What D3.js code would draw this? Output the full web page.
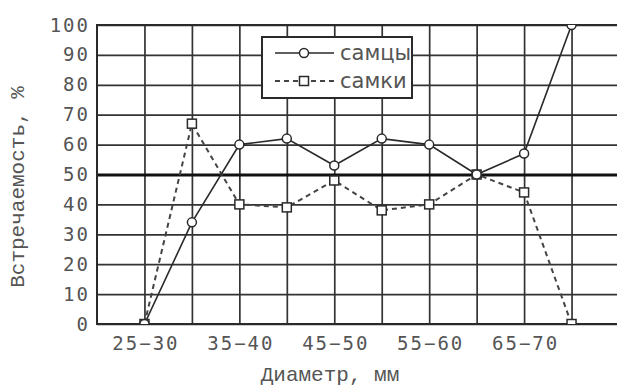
<!DOCTYPE html>
<html>
<head>
<meta charset="utf-8">
<script src="https://cdn.jsdelivr.net/npm/d3@7"></script>
<style>
	body { margin: 0; background: #fff; }
	svg { display: block; }
</style>
</head>
<body>
<div id="chart"></div>
<script>
(() => {
	// data
	const categories = ['25-30', '30-35', '35-40', '40-45', '45-50', '50-55', '55-60', '60-65', '65-70', '70-75'];
	const males = [0, 34, 60, 62, 53, 62, 60, 50, 57, 100];
	const females = [0, 67, 40, 39, 48, 38, 40, 50, 44, 0];
	const yTicks = [0, 10, 20, 30, 40, 50, 60, 70, 80, 90, 100];
	const seriesNames = ['самцы', 'самки'];

	const W = 617;
	const H = 390;
	const left = 97, right = 619, top = 25, bottom = 324;
	const ink = '#2a2a2a';
	const textGray = '#555';

	const svg = d3.select('#chart').append('svg')
		.attr('width', W)
		.attr('height', H);

	const x = d3.scalePoint()
		.domain(categories)
		.range([left, right])
		.padding(1);
	const y = d3.scaleLinear()
		.domain([0, 100])
		.range([bottom, top]);

	svg.append('clipPath')
		.attr('id', 'plot-clip')
		.append('rect')
			.attr('x', left)
			.attr('y', top)
			.attr('width', right - left)
			.attr('height', bottom - top);

	// grid via axes
	const xAxis = d3.axisBottom(x)
		.tickSize(-(bottom - top))
		.tickPadding(8)
		.tickFormat((d, i) => (i % 2 === 0 ? d.replace('-', '\u2212') : ''));
	const yAxis = d3.axisLeft(y)
		.tickValues(yTicks)
		.tickSize(-(right - left))
		.tickPadding(7);

	const xAxisG = svg.append('g')
		.attr('transform', `translate(0, ${bottom})`)
		.call(xAxis);
	const yAxisG = svg.append('g')
		.attr('transform', `translate(${left}, 0)`)
		.call(yAxis);

	[xAxisG, yAxisG].forEach(g => {
		g.select('.domain').remove();
		g.selectAll('line')
			.style('stroke', '#333')
			.style('stroke-width', 1.7);
		g.selectAll('text')
			.style('font-family', '"DejaVu Sans Mono", monospace')
			.style('font-size', '19px')
			.style('letter-spacing', '2px')
			.style('fill', textGray);
	});
	xAxisG.selectAll('text').attr('dy', '0.95em').attr('dx', '1px');

	// 50% line
	yAxisG.selectAll('.tick')
		.filter(d => d === 50)
		.select('line')
		.style('stroke', '#111')
		.style('stroke-width', 3.2);

	// plot border
	svg.append('rect')
		.attr('x', left)
		.attr('y', top)
		.attr('width', right - left)
		.attr('height', bottom - top)
		.style('fill', 'none')
		.style('stroke', ink)
		.style('stroke-width', 2);

	const lineFunc = d3.line()
		.x((d, i) => x(categories[i]))
		.y(d => y(d));

	const plot = svg.append('g').attr('clip-path', 'url(#plot-clip)');

	plot.append('path')
		.datum(females)
		.attr('d', lineFunc)
		.style('fill', 'none')
		.style('stroke', '#444')
		.style('stroke-width', 2)
		.style('stroke-dasharray', '5,4');
	plot.append('path')
		.datum(males)
		.attr('d', lineFunc)
		.style('fill', 'none')
		.style('stroke', ink)
		.style('stroke-width', 1.6);

	plot.selectAll('.sq')
		.data(females)
		.enter()
		.append('rect')
			.attr('class', 'sq')
			.attr('x', (d, i) => x(categories[i]) - 4.5)
			.attr('y', d => y(d) - 4.5)
			.attr('width', 9)
			.attr('height', 9)
			.style('fill', '#fff')
			.style('stroke', ink)
			.style('stroke-width', 1.5);
	plot.selectAll('.dot')
		.data(males)
		.enter()
		.append('circle')
			.attr('class', 'dot')
			.attr('cx', (d, i) => x(categories[i]))
			.attr('cy', d => y(d))
			.attr('r', 4.5)
			.style('fill', '#fff')
			.style('stroke', ink)
			.style('stroke-width', 1.5);

	// legend
	const legendG = svg.append('g')
		.attr('transform', 'translate(262, 37)');
	legendG.append('rect')
		.attr('width', 150)
		.attr('height', 61)
		.style('fill', '#fff')
		.style('stroke', ink)
		.style('stroke-width', 2);

	const legend = legendG.selectAll('.entry')
		.data(seriesNames)
		.enter()
		.append('g')
			.attr('class', 'entry')
			.attr('transform', (d, i) => `translate(0, ${16 + i * 28})`);

	legend.append('line')
		.attr('x1', 13)
		.attr('x2', 72)
		.style('stroke', (d, i) => (i === 0 ? ink : '#444'))
		.style('stroke-width', (d, i) => (i === 0 ? 1.6 : 2))
		.style('stroke-dasharray', (d, i) => (i === 0 ? null : '5,4'));
	legend.filter((d, i) => i === 0)
		.append('circle')
			.attr('cx', 42)
			.attr('r', 4.5)
			.style('fill', '#fff')
			.style('stroke', ink)
			.style('stroke-width', 1.5);
	legend.filter((d, i) => i === 1)
		.append('rect')
			.attr('x', 37.5)
			.attr('y', -4.5)
			.attr('width', 9)
			.attr('height', 9)
			.style('fill', '#fff')
			.style('stroke', ink)
			.style('stroke-width', 1.5);
	legend.append('text')
		.attr('x', 78)
		.attr('dy', '0.35em')
		.style('font-family', '"DejaVu Sans", sans-serif')
		.style('font-size', '21px')
		.style('fill', textGray)
		.text(d => d);

	// axis titles
	svg.append('text')
		.attr('x', 330)
		.attr('y', 381)
		.style('text-anchor', 'middle')
		.style('font-family', '"Liberation Mono", monospace')
		.style('font-size', '21px')
		.style('fill', textGray)
		.text('Диаметр, мм');
	svg.append('text')
		.attr('transform', 'rotate(-90)')
		.attr('x', -187)
		.attr('y', 24)
		.style('text-anchor', 'middle')
		.style('font-family', '"Liberation Mono", monospace')
		.style('font-size', '21px')
		.style('fill', textGray)
		.text('Встречаемость, %');
})();
</script>
</body>
</html>
